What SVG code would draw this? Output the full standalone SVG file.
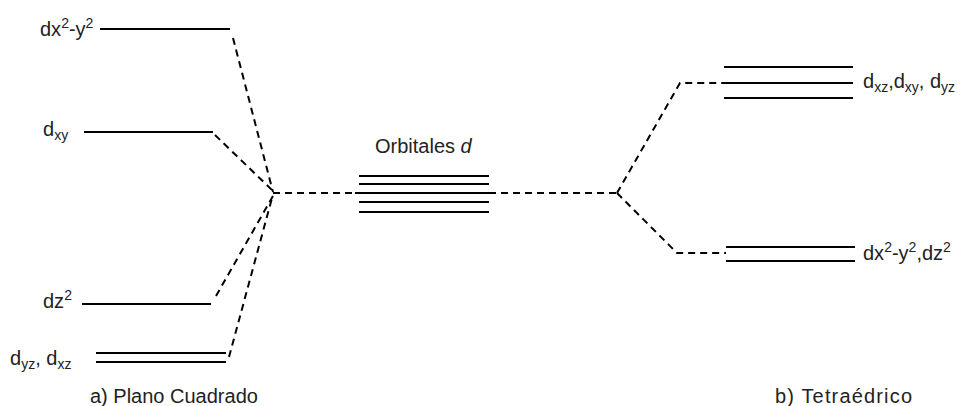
<svg xmlns="http://www.w3.org/2000/svg" width="964" height="406" viewBox="0 0 964 406">
<style>
.lvl{stroke:#000;stroke-width:2;fill:none}
.dash{stroke:#000;stroke-width:2;fill:none;stroke-dasharray:7,5}
text{font-family:"Liberation Sans",Arial,sans-serif;font-size:20px;fill:#222}
.s{font-size:14px}
</style>
<rect width="964" height="406" fill="#fff"/>
<g id="connectors">
<path class="dash" d="M233,38 L273,192"/>
<path class="dash" d="M215,135 L272,190"/>
<path class="dash" d="M216,296 L273,196"/>
<path class="dash" d="M229,357 L272,198"/>
<path class="dash" d="M273,193 L617,193"/>
<path class="dash" d="M617,193 L680,83 L724,83"/>
<path class="dash" d="M617,193 L677,253 L726,253"/>
</g>
<g id="sq-dx2y2">
<line class="lvl" x1="100" y1="29" x2="230" y2="29"/>
<text x="40" y="36">dx<tspan class="s" dy="-8">2</tspan><tspan dy="8">-y</tspan><tspan class="s" dy="-8">2</tspan></text>
</g>
<g id="sq-dxy">
<line class="lvl" x1="84" y1="132" x2="213" y2="132"/>
<text x="43" y="136">d<tspan class="s" dy="4">xy</tspan></text>
</g>
<g id="sq-dz2">
<line class="lvl" x1="82" y1="304" x2="211" y2="304"/>
<text x="43" y="308">dz<tspan class="s" dy="-8">2</tspan></text>
</g>
<g id="sq-dyz-dxz">
<line class="lvl" x1="96" y1="353" x2="226" y2="353"/>
<line class="lvl" x1="96" y1="362" x2="226" y2="362"/>
<text x="10" y="365">d<tspan class="s" dy="4">yz</tspan><tspan dy="-4">, d</tspan><tspan class="s" dy="4">xz</tspan></text>
</g>
<g id="free-d">
<line class="lvl" x1="359" y1="176" x2="489" y2="176"/>
<line class="lvl" x1="359" y1="184" x2="489" y2="184"/>
<line class="lvl" x1="355" y1="193" x2="493" y2="193"/>
<line class="lvl" x1="359" y1="202" x2="489" y2="202"/>
<line class="lvl" x1="359" y1="212" x2="489" y2="212"/>
<text x="375" y="153">Orbitales <tspan font-style="italic">d</tspan></text>
</g>
<g id="td-t2">
<line class="lvl" x1="724" y1="67" x2="853" y2="67"/>
<line class="lvl" x1="724" y1="83" x2="853" y2="83"/>
<line class="lvl" x1="724" y1="98" x2="853" y2="98"/>
<text x="863" y="88">d<tspan class="s" dy="4">xz</tspan><tspan dy="-4">,d</tspan><tspan class="s" dy="4">xy</tspan><tspan dy="-4">, d</tspan><tspan class="s" dy="4">yz</tspan></text>
</g>
<g id="td-e">
<line class="lvl" x1="726" y1="247" x2="855" y2="247"/>
<line class="lvl" x1="726" y1="261" x2="855" y2="261"/>
<text x="863" y="260">dx<tspan class="s" dy="-8">2</tspan><tspan dy="8">-y</tspan><tspan class="s" dy="-8">2</tspan><tspan dy="8">,dz</tspan><tspan class="s" dy="-8">2</tspan></text>
</g>
<g id="captions">
<text x="90" y="403">a) Plano Cuadrado</text>
<text x="775" y="403" textLength="137">b) Tetraédrico</text>
</g>
</svg>
